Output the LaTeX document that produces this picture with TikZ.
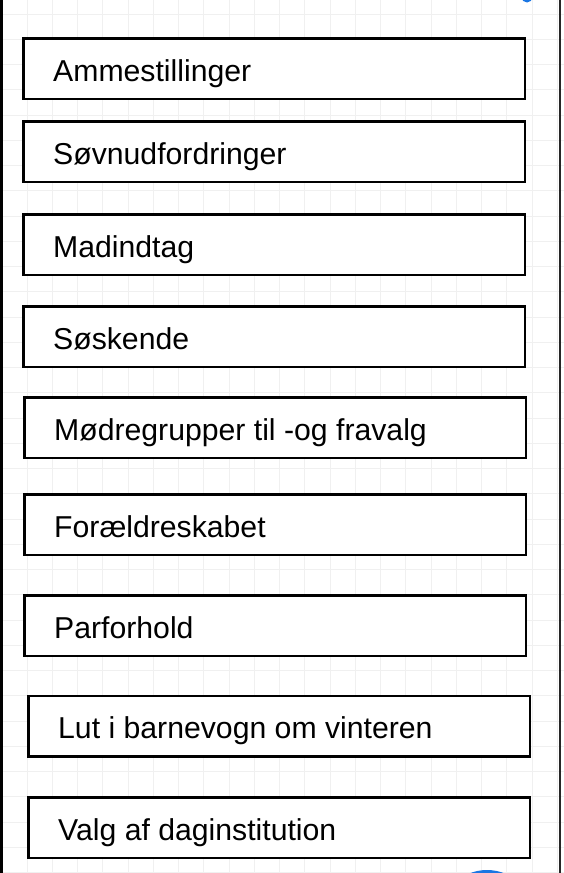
\documentclass[tikz,border=0pt]{standalone}
\usepackage{fontspec}
\setmainfont{Liberation Sans}
\definecolor{gridc}{HTML}{F0F0F0}
\definecolor{dioblue}{HTML}{1A76E3}
\begin{document}
\begin{tikzpicture}[x=1pt,y=-1pt,
  topic/.style={draw=black,line width=2.5pt,fill=white,minimum width=501.5pt,minimum height=60.5pt,inner sep=0pt,anchor=center},
  lbl/.style={anchor=base west,inner sep=0pt,font=\fontsize{30.2}{34}\selectfont}]
\useasboundingbox (0,0) rectangle (564,873);
\fill[white] (0,0) rectangle (564,873);
\begin{scope}
\clip (0,0) rectangle (564,873);
\foreach \k in {0,...,22} {\draw[gridc,line width=0.8pt] (1.75+25.25*\k,0) -- (1.75+25.25*\k,873);}
\foreach \k in {0,...,35} {\draw[gridc,line width=0.8pt] (0,14+25.25*\k) -- (564,14+25.25*\k);}
\fill[dioblue] (527,-3) circle (5.5);
\fill[dioblue] (487,917) circle (47);
\fill[white] (487,917) circle (44);
\end{scope}
\draw[black,line width=3pt] (1.5,0) -- (1.5,873);
\draw[black!85,line width=2.5pt] (560,0) -- (560,873);
\node[topic] (b1) at (274,68.5) {};
\node[topic] (b2) at (274,151.5) {};
\node[topic] (b3) at (274,244.5) {};
\node[topic] (b4) at (274,336.5) {};
\node[topic] (b5) at (275,427.5) {};
\node[topic] (b6) at (275,524.5) {};
\node[topic] (b7) at (275,625.5) {};
\node[topic] (b8) at (279,726) {};
\node[topic] (b9) at (279,827.5) {};
\node[lbl] (t1) at (53,81) {Ammestillinger};
\node[lbl] (t2) at (53,164) {Søvnudfordringer};
\node[lbl] (t3) at (53,257) {Madindtag};
\node[lbl] (t4) at (53,349) {Søskende};
\node[lbl] (t5) at (54,440) {Mødregrupper til -og fravalg};
\node[lbl] (t6) at (54,537) {Forældreskabet};
\node[lbl] (t7) at (54,638) {Parforhold};
\node[lbl] (t8) at (58,738.5) {Lut i barnevogn om vinteren};
\node[lbl] (t9) at (58,840) {Valg af daginstitution};
\end{tikzpicture}
\end{document}
